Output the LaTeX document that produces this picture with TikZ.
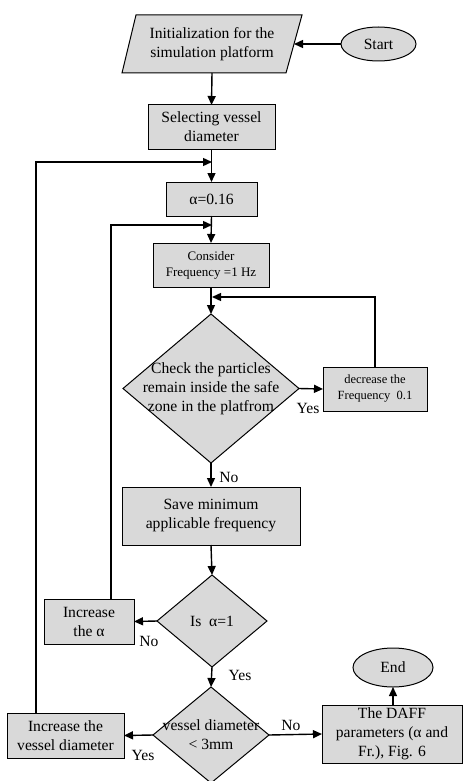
\documentclass[tikz,border=0pt]{standalone}
\usepackage{fontspec}
\setmainfont{Liberation Serif}
\usetikzlibrary{shapes.geometric,arrows.meta}
\definecolor{boxfill}{RGB}{217,217,217}
\begin{document}
\begin{tikzpicture}[x=1pt,y=-1pt,
  every node/.style={inner sep=0pt, outer sep=0pt},
  ln/.style={line width=1.4pt},
  arr/.style={ln, -{Triangle[length=9pt,width=8pt]}},
  boxst/.style={draw, line width=1pt, fill=boxfill, rectangle, align=center,
     font=\fontsize{15.6}{19}\selectfont},
  ovalst/.style={draw, line width=1pt, fill=boxfill, ellipse, font=\fontsize{15.6}{17}\selectfont},
  diast/.style={draw, line width=1pt, fill=boxfill, diamond},
  txtst/.style={align=center, font=\fontsize{15.6}{19}\selectfont},
  lab/.style={font=\fontsize{15.6}{17}\selectfont}
]
\useasboundingbox (0,0) rectangle (463,781);

% parallelogram
\draw[line width=1pt, fill=boxfill] (122,73) -- (136,15) -- (302,15) -- (286,73) -- cycle;
\node[txtst] (init) at (212,44) {Initialization for the\\simulation platform};
\coordinate (initE) at (294,44);
\coordinate (initS) at (212,73);

\node[ovalst, minimum width=75pt, minimum height=34pt] (start) at (378.5,44) {Start};
\node[boxst, minimum width=127pt, minimum height=44pt] (sel) at (211.5,127) {Selecting vessel\\diameter};
\node[boxst, minimum width=91pt, minimum height=34pt] (alpha) at (211.5,199) {α=0.16};
\node[boxst, minimum width=116pt, minimum height=44pt, font=\fontsize{13}{16}\selectfont] (cons) at (211,265) {Consider\\Frequency =1 Hz};
\node[diast, minimum width=176pt, minimum height=149pt] (d1) at (211,388.5) {};
\node[txtst] (d1t) at (211,388.5) {Check the particles\\remain inside the safe\\zone in the platfrom};
\node[boxst, minimum width=104pt, minimum height=44pt, font=\fontsize{12.5}{16}\selectfont] (dec) at (375,389) {decrease the\\Frequency~ 0.1};
\node[boxst, minimum width=178pt, minimum height=58pt] (save) at (211,516) {Save minimum\\applicable frequency};
\node[diast, minimum width=110pt, minimum height=92pt] (d2) at (212,621) {};
\node[txtst] (d2t) at (212,621) {Is~ α=1};
\node[boxst, minimum width=90pt, minimum height=45pt] (inca) at (89,621.5) {Increase\\the α};
\node[diast, minimum width=116pt, minimum height=96pt] (d3) at (211,735) {};
\node[txtst] (d3t) at (211,735) {vessel diameter\\< 3mm};
\node[boxst, minimum width=117pt, minimum height=45pt] (incv) at (65.5,735.5) {Increase the\\vessel diameter};
\node[boxst, minimum width=140pt, minimum height=58pt] (daff) at (392,734) {The DAFF\\parameters (α and\\Fr.), Fig. 6};
\node[ovalst, minimum width=80pt, minimum height=39pt] (end) at (393,667.5) {End};

% main flow
\draw[arr] (start.west) -- (initE);
\draw[arr] (initS) -- (sel.north);
\draw[arr] (sel.south) -- (alpha.north);
\draw[arr] (alpha.south) -- (cons.north);
\draw[arr] (cons.south) -- (d1.north);
\draw[arr] (d1.east) -- (dec.west);
\draw[arr] (d1.south) -- (save.north);
\draw[arr] (save.south) -- (d2.north);
\draw[arr] (d2.west) -- (inca.east);
\draw[arr] (d2.south) -- (d3.north);
\draw[arr] (d3.west) -- (incv.east);
\draw[arr] (d3.east) -- (daff.west);
\draw[arr] (daff.north -| end.south) -- (end.south);

% loops
\coordinate (j1) at (212,162);
\coordinate (j2) at (212,225);
\coordinate (j3) at (212,297);
\draw[arr] ([xshift=-29.5pt]incv.north) |- (j1);
\draw[arr] ([xshift=22pt]inca.north) |- (j2);
\draw[arr] (dec.north) |- (j3);

% labels
\node[lab] (l1) at (308,408) {Yes};
\node[lab] (l2) at (229,477) {No};
\node[lab] (l3) at (149,641) {No};
\node[lab] (l4) at (240,675) {Yes};
\node[lab] (l5) at (291,725) {No};
\node[lab] (l6) at (143,755) {Yes};
\end{tikzpicture}
\end{document}
